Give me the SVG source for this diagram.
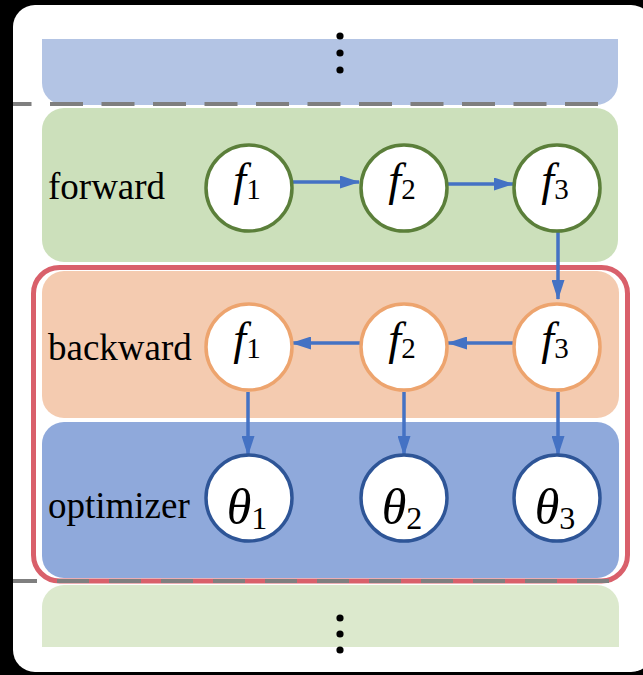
<svg xmlns="http://www.w3.org/2000/svg" width="643" height="675" viewBox="0 0 643 675">
<style>
.lbl{font-size:37px;fill:#000}
.m{fill:#000}
.it{font-style:italic}
.fw{fill:#fff;stroke:#5b7f3a;stroke-width:3.5}
.bw{fill:#fff;stroke:#eda46e;stroke-width:3.5}
.op{fill:#fff;stroke:#2e5597;stroke-width:3.5}
.arr{stroke:#4472c4;stroke-width:3.5;fill:none;marker-end:url(#ah)}
.dash{stroke:#7f7f7f;stroke-width:4;fill:none}
</style>
<defs>
<marker id="ah" markerUnits="userSpaceOnUse" markerWidth="20" markerHeight="13" refX="19" refY="6.5" orient="auto">
<path d="M0,0 L20,6.5 L0,13 Z" fill="#4472c4"/>
</marker>
</defs>
<rect x="0" y="0" width="643" height="675" fill="#000"/>
<rect x="13" y="5" width="640" height="667" rx="22" fill="#fff"/>

<g id="bands">
<path d="M42,39 H618 V83 A22,22 0 0 1 596,105 H64 A22,22 0 0 1 42,83 Z" fill="#b3c4e4"/>
<rect x="42" y="108" width="576" height="154" rx="22" fill="#cce0bb"/>
<rect x="42" y="271" width="577" height="147" rx="22" fill="#f4cbb0"/>
<rect x="42" y="422" width="577" height="156" rx="22" fill="#8fa9db"/>
<path d="M42,647 V607 A22,22 0 0 1 64,585 H597 A22,22 0 0 1 619,607 V647 Z" fill="#dce9cd"/>
</g>

<line class="dash" x1="13" y1="104" x2="600" y2="104" stroke-dasharray="33 18.5" stroke-dashoffset="14.5"/>
<rect x="33.5" y="267.5" width="594" height="313.5" rx="26" fill="none" stroke="#d9606b" stroke-width="5"/>
<line class="dash" x1="13" y1="581" x2="622" y2="581" stroke-dasharray="32 20" stroke-dashoffset="8"/>

<g id="dots-top" fill="#000">
<circle cx="340" cy="36" r="3.6"/>
<circle cx="340" cy="53" r="3.6"/>
<circle cx="340" cy="70" r="3.6"/>
</g>
<g id="dots-bottom" fill="#000">
<circle cx="340" cy="618" r="3.6"/>
<circle cx="340" cy="634" r="3.6"/>
<circle cx="340" cy="650" r="3.6"/>
</g>

<g font-family="'Liberation Serif', 'DejaVu Serif', serif">
<text class="lbl" x="48" y="199">forward</text>
<text class="lbl" x="48" y="360">backward</text>
<text class="lbl" x="48" y="518">optimizer</text>
</g>

<g id="connectors">
<line class="arr" x1="293" y1="182" x2="359" y2="182"/>
<line class="arr" x1="448" y1="184" x2="513" y2="184"/>
<line class="arr" x1="558" y1="232" x2="558" y2="299"/>
<line class="arr" x1="513" y1="343" x2="448" y2="343"/>
<line class="arr" x1="360" y1="343" x2="292" y2="343"/>
<line class="arr" x1="248" y1="392" x2="248" y2="455"/>
<line class="arr" x1="404" y1="392" x2="404" y2="455"/>
<line class="arr" x1="558" y1="392" x2="558" y2="455"/>
</g>

<g font-family="'Liberation Serif', 'DejaVu Serif', serif">
<g id="fwd-f1"><circle class="fw" cx="249" cy="188" r="43"/><text class="m" x="247" y="195" text-anchor="middle"><tspan class="it" font-size="46">f</tspan><tspan font-size="29" dy="4">1</tspan></text></g>
<g id="fwd-f2"><circle class="fw" cx="404" cy="188" r="43"/><text class="m" x="402" y="195" text-anchor="middle"><tspan class="it" font-size="46">f</tspan><tspan font-size="29" dy="4">2</tspan></text></g>
<g id="fwd-f3"><circle class="fw" cx="557" cy="188" r="43"/><text class="m" x="555" y="195" text-anchor="middle"><tspan class="it" font-size="46">f</tspan><tspan font-size="29" dy="4">3</tspan></text></g>

<g id="bwd-f1"><circle class="bw" cx="249" cy="347" r="43"/><text class="m" x="247" y="354" text-anchor="middle"><tspan class="it" font-size="46">f</tspan><tspan font-size="29" dy="4">1</tspan></text></g>
<g id="bwd-f2"><circle class="bw" cx="404" cy="347" r="43"/><text class="m" x="402" y="354" text-anchor="middle"><tspan class="it" font-size="46">f</tspan><tspan font-size="29" dy="4">2</tspan></text></g>
<g id="bwd-f3"><circle class="bw" cx="557" cy="347" r="43"/><text class="m" x="555" y="354" text-anchor="middle"><tspan class="it" font-size="46">f</tspan><tspan font-size="29" dy="4">3</tspan></text></g>

<g id="opt-t1"><circle class="op" cx="249" cy="498" r="43"/><text class="m" x="247" y="524" text-anchor="middle"><tspan class="it" font-size="50">θ</tspan><tspan font-size="32" dy="5">1</tspan></text></g>
<g id="opt-t2"><circle class="op" cx="404" cy="498" r="43"/><text class="m" x="402" y="524" text-anchor="middle"><tspan class="it" font-size="50">θ</tspan><tspan font-size="32" dy="5">2</tspan></text></g>
<g id="opt-t3"><circle class="op" cx="557" cy="498" r="43"/><text class="m" x="555" y="524" text-anchor="middle"><tspan class="it" font-size="50">θ</tspan><tspan font-size="32" dy="5">3</tspan></text></g>
</g>
</svg>
